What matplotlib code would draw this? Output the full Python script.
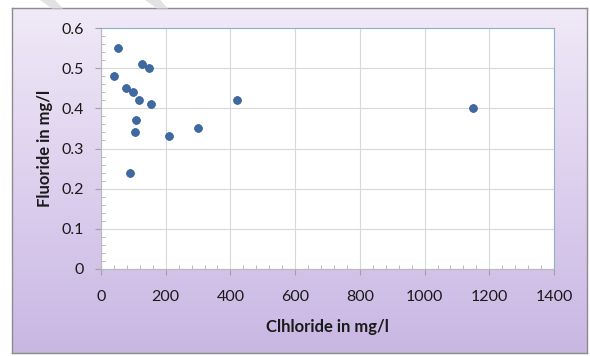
"""Fluoride vs chloride scatter, spreadsheet-style chart."""

import matplotlib

matplotlib.use("Agg")

import matplotlib.pyplot as plt
import numpy as np
from matplotlib.colors import LinearSegmentedColormap
from matplotlib.patches import Polygon
from matplotlib.ticker import MultipleLocator

# values
chloride = [40, 53, 78, 98, 116, 128, 147, 154, 108, 105, 91, 210, 300, 421, 1150]
fluoride = [0.48, 0.55, 0.45, 0.44, 0.42, 0.51, 0.50, 0.41, 0.37, 0.34, 0.24, 0.33, 0.35, 0.42, 0.40]

x_ticks = [0, 200, 400, 600, 800, 1000, 1200, 1400]
y_ticks = [0, 0.1, 0.2, 0.3, 0.4, 0.5, 0.6]
y_tick_labels = ["0", "0.1", "0.2", "0.3", "0.4", "0.5", "0.6"]

_W, _H = 590, 356
_FONT = ["Lato", "DejaVu Sans"]
_INK = "#1a1a1a"

fig = plt.figure(figsize=(_W / 100, _H / 100), dpi=100, facecolor="white")


def _fx(px):
    return px / _W


def _fy(py):
    return 1 - py / _H


# faint watermark stripes above the chart frame
for x0 in (40, 145):
    pts = [(_fx(x0), _fy(0)), (_fx(x0 + 15), _fy(0)), (_fx(x0 + 23), _fy(8.5)), (_fx(x0 + 12), _fy(8.5))]
    fig.patches.append(Polygon(pts, closed=True, transform=fig.transFigure,
                               facecolor="#e2e2e2", edgecolor="none", zorder=0))

# chart frame with lavender vertical gradient
frame = fig.add_axes([_fx(12), _fy(353), _fx(575), 345 / _H], zorder=0)
grad = LinearSegmentedColormap.from_list("lav", ["#f0eaf7", "#ddd0ee", "#c9b7e3"])
frame.imshow(np.linspace(0, 1, 256).reshape(-1, 1), aspect="auto", cmap=grad,
             extent=(0, 1, 0, 1), origin="upper")
frame.set_xticks([])
frame.set_yticks([])
for spine in frame.spines.values():
    spine.set_color("#8c8c8c")
    spine.set_linewidth(1.0)

ax = fig.add_axes([_fx(101), _fy(269), _fx(453), 241 / _H], zorder=1)
ax.set_facecolor("white")
ax.scatter(chloride, fluoride, s=32, color="#3d6aa3", edgecolors="#2f5588",
           linewidths=0.5, zorder=3)

ax.set_xlim(0, 1400)
ax.set_ylim(0, 0.6)
ax.set_xticks(x_ticks)
ax.set_yticks(y_ticks)
ax.set_yticklabels(y_tick_labels)
ax.xaxis.set_minor_locator(MultipleLocator(40))
ax.yaxis.set_minor_locator(MultipleLocator(0.02))
ax.grid(True, which="major", color="#d6d8dc", linewidth=0.8)
ax.set_axisbelow(True)

ax.tick_params(which="major", direction="out", length=4, color="#a0a0a0",
               labelsize=11.5, labelcolor=_INK)
ax.tick_params(axis="x", which="major", pad=11)
ax.tick_params(axis="y", which="major", pad=8)
ax.tick_params(which="minor", direction="in", length=3, color="#b0b0b0")
for lab in ax.get_xticklabels() + ax.get_yticklabels():
    lab.set_family(_FONT)

for side in ("left", "bottom"):
    ax.spines[side].set_color("#b8b8c0")
for side in ("top", "right"):
    ax.spines[side].set_color("#8fb2c8")

ax.set_xlabel("Clhloride in mg/l", fontsize=12, fontweight="bold", color=_INK,
              family=_FONT, labelpad=11)
ax.set_ylabel("Fluoride in mg/l", fontsize=12, fontweight="bold", color=_INK,
              family=_FONT, labelpad=6.5)

fig.savefig("out.png", dpi=100, facecolor=fig.get_facecolor())
plt.close(fig)
